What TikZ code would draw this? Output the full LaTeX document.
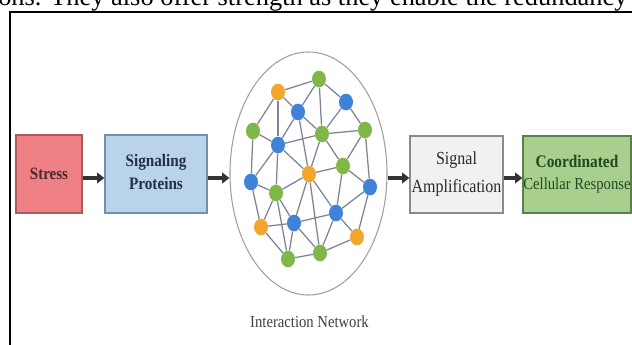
\documentclass[tikz,border=0pt]{standalone}
\usepackage{fontspec}
\setmainfont{Liberation Serif}
\usetikzlibrary{arrows.meta,shapes.geometric}
\definecolor{stressfill}{HTML}{EF8085}
\definecolor{stressdraw}{HTML}{B0585D}
\definecolor{stresstext}{HTML}{4A2A2E}
\definecolor{sigfill}{HTML}{B9D3EA}
\definecolor{sigdraw}{HTML}{7090B0}
\definecolor{sigtext}{HTML}{23304A}
\definecolor{ampfill}{HTML}{F1F1F4}
\definecolor{ampdraw}{HTML}{8A8A8A}
\definecolor{amptext}{HTML}{2A2A2A}
\definecolor{resfill}{HTML}{A8CF8D}
\definecolor{resdraw}{HTML}{5B7F48}
\definecolor{restext}{HTML}{1F4A1F}
\definecolor{nor}{HTML}{F2A62C}
\definecolor{ngr}{HTML}{7FB848}
\definecolor{nbl}{HTML}{3F83D8}
\definecolor{edgec}{HTML}{7F8396}
\definecolor{arrc}{HTML}{333333}
\newcommand\vsc[1]{\scalebox{1}[1.15]{#1}}
\tikzset{
  box/.style={draw, line width=0.9pt, inner sep=0pt, align=center},
  arr/.style={draw=arrc, line width=2.3pt, -{Triangle[length=5.5pt,width=8pt]}},
  dot/.style={ellipse, inner sep=0pt, minimum width=10.5pt, minimum height=12.5pt},
  edge/.style={draw=edgec, line width=0.95pt},
}
\begin{document}
\begin{tikzpicture}[x=0.75pt,y=-0.75pt]
\useasboundingbox (0,0) rectangle (632,345);
\fill[white] (0,0) rectangle (632,345);
% top text line (cut)
\node[anchor=base west, inner sep=0pt, font=\fontsize{19.8}{20}\selectfont] (toptext) at (-2,6) {ons. They also offer strength as they enable the redundancy};
% frame
\draw[line width=1.5pt] (10.3,346) -- (10.3,12) -- (633,12);

% boxes
\node[box, fill=stressfill, draw=stressdraw, text=stresstext, minimum width={66*0.75pt}, minimum height={78*0.75pt},
  font=\fontsize{11.25}{13}\selectfont\bfseries] (stress) at (49,174) {\vsc{Stress}};
\node[box, fill=sigfill, draw=sigdraw, text=sigtext, minimum width={102*0.75pt}, minimum height={78*0.75pt},
  font=\fontsize{11.4}{13}\selectfont\bfseries] (sig) at (156,174) {\vsc{\begin{tabular}{@{}c@{}}Signaling\\[1.5pt]Proteins\end{tabular}}};
\node[box, fill=ampfill, draw=ampdraw, text=amptext, minimum width={93*0.75pt}, minimum height={77*0.75pt},
  font=\fontsize{12}{14}\selectfont] (amp) at (456.5,174.5) {\vsc{\begin{tabular}{@{}c@{}}Signal\\[4.5pt]Amplification\end{tabular}}};
\node[box, fill=resfill, draw=resdraw, text=restext, minimum width={108*0.75pt}, minimum height={77*0.75pt}] (res) at (577,174.5)
  {\vsc{\begin{tabular}{@{}c@{}}\fontsize{11.5}{13}\selectfont\bfseries Coordinated\\[2.5pt]\fontsize{11}{13}\selectfont Cellular Response\end{tabular}}};

% network ellipse
\node[ellipse, draw=gray!75, line width=0.8pt, inner sep=0pt, minimum width={157*0.75pt}, minimum height={243*0.75pt}] (net) at (308.5,173.5) {};
\node[font=\fontsize{11}{13}\selectfont, text=black!75] (netlbl) at (309.5,322) {\vsc{Interaction Network}};

% network nodes
\node[dot, fill=nor] (A) at (278,92) {};
\node[dot, fill=ngr] (B) at (319,79) {};
\node[dot, fill=nbl] (C) at (346,102) {};
\node[dot, fill=nbl] (D) at (298,112) {};
\node[dot, fill=ngr] (E) at (253,131) {};
\node[dot, fill=ngr] (F) at (322,134) {};
\node[dot, fill=ngr] (G) at (365,130) {};
\node[dot, fill=nbl] (H) at (278,145) {};
\node[dot, fill=nor] (I) at (309,174) {};
\node[dot, fill=ngr] (J) at (343,166) {};
\node[dot, fill=nbl] (K) at (251,182) {};
\node[dot, fill=ngr] (L) at (276,193) {};
\node[dot, fill=nbl] (M) at (370,187) {};
\node[dot, fill=nbl] (N) at (336,213) {};
\node[dot, fill=nbl] (O) at (294,223) {};
\node[dot, fill=nor] (P) at (261,227) {};
\node[dot, fill=nor] (Q) at (357,237) {};
\node[dot, fill=ngr] (R) at (320,253) {};
\node[dot, fill=ngr] (S) at (288,259) {};

% edges
\foreach \a/\b in {A/B,A/D,A/E,A/H,B/C,B/D,B/F,C/F,C/G,D/F,D/H,D/I,E/H,E/K,F/G,F/H,F/I,F/J,G/J,G/M,
  H/I,H/K,H/L,I/J,I/L,I/O,I/N,I/R,J/M,J/N,K/L,K/P,L/P,L/O,L/S,M/N,M/Q,N/O,N/Q,N/R,O/P,O/S,O/R,P/S,Q/R,R/S}
  \draw[edge] (\a) -- (\b);

% arrows
\coordinate (ay) at (0,178);
\draw[arr] (stress.east |- ay) -- (sig.west |- ay);
\draw[arr] (sig.east |- ay) -- (net.west |- ay);
\draw[arr] (net.east |- ay) -- (amp.west |- ay);
\draw[arr] (amp.east |- ay) -- (res.west |- ay);
\end{tikzpicture}
\end{document}
